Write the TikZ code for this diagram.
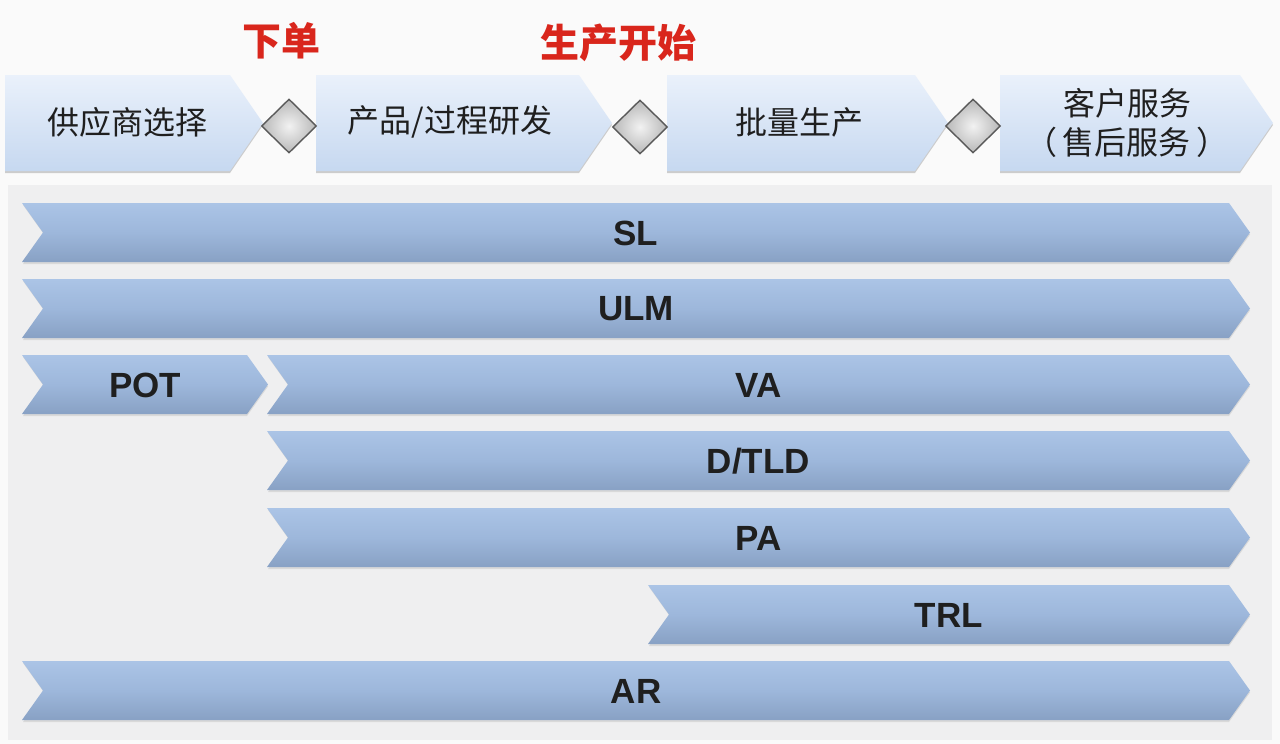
\documentclass[tikz,border=0pt]{standalone}
\usepackage{fontspec}
\setmainfont{Liberation Sans}
\newfontfamily\cjk{Noto Sans CJK SC}
\usetikzlibrary{shapes.geometric}

\definecolor{panelgray}{HTML}{EFEFF0}
\definecolor{phasetop}{HTML}{EAF1FB}
\definecolor{phasebot}{HTML}{C6D8F0}
\definecolor{tasktop}{HTML}{ABC4E6}
\definecolor{taskmid}{HTML}{9DB7DB}
\definecolor{taskbot}{HTML}{88A1C4}
\definecolor{milered}{HTML}{D9261C}

% header phase: left x, tip x
\newcommand{\phasebox}[2]{%
  \fill[phaseshadow] (#1,77) -- (#2-33,77) -- (#2,125) -- (#2-33,173) -- (#1,173) -- cycle;
  \shade[phase] (#1,75) -- (#2-33,75) -- (#2,123) -- (#2-33,171) -- (#1,171) -- cycle;
}
% task bar: top y, left x, tip x, name, label
\newcommand{\taskbar}[5]{%
  \fill[taskshadow] (#2+1,#1+2) -- (#3-21,#1+2) -- (#3,#1+31.5) -- (#3-21,#1+61) -- (#2+1,#1+61) -- (#2+22,#1+31.5) -- cycle;
  \shade[task] (#2,#1) -- (#3-21,#1) -- (#3,#1+29.5) -- (#3-21,#1+59) -- (#2,#1+59) -- (#2+21,#1+29.5) -- cycle;
  \node[tasklabel] (#4) at ({(#2+#3)/2},#1+30) {#5};
}

\begin{document}
\begin{tikzpicture}
  [x=0.5pt, y=-0.5pt,
   phase/.style={top color=phasetop, bottom color=phasebot},
   phaseshadow/.style={fill=black!20},
   task/.style={top color=tasktop, bottom color=taskbot, middle color=taskmid},
   taskshadow/.style={fill=black!15},
   tasklabel/.style={font=\fontsize{17.5}{20}\selectfont\bfseries, text=black!88},
   phaselabel/.style={font=\cjk\fontsize{16}{19.5}\selectfont, text=black!88, align=center},
   gate/.style={diamond, draw=black!65, line width=0.7pt, inner color=black!5, outer color=black!28,
     minimum width=27.5pt, minimum height=27pt, inner sep=0pt},
   milestone/.style={font=\cjk\fontsize{19.5}{22}\selectfont\bfseries, text=milered}]
  \useasboundingbox (0,0) rectangle (1280,744);
  \fill[black!2] (0,0) rectangle (1280,744);
  \fill[panelgray] (8,185) rectangle (1272,740);

  % phases
  \phasebox{5}{263}
  \phasebox{316}{612}
  \phasebox{667}{948}
  \phasebox{1000}{1273}
  \node[phaselabel] (select) at (127,122) {供应商选择};
  \node[phaselabel] (develop) at (450,122) {产品/过程研发};
  \node[phaselabel] (mass) at (799,122) {批量生产};
  \node[phaselabel] (service) at (1127,123) {客户服务\\（\,售后服务\,）};

  % gates and milestones
  \node[gate] (g1) at (289,126) {};
  \node[gate] (g2) at (640,127) {};
  \node[gate] (g3) at (973,126) {};
  \node[milestone] (order) at (281,41) {下单};
  \node[milestone] (sop) at (618,43) {生产开始};

  % tasks
  \taskbar{203}{22}{1250}{sl}{SL}
  \taskbar{279}{22}{1250}{ulm}{ULM}
  \taskbar{355}{22}{268}{pot}{POT}
  \taskbar{355}{267}{1250}{va}{VA}
  \taskbar{431}{267}{1250}{dtld}{D/TLD}
  \taskbar{508}{267}{1250}{pa}{PA}
  \taskbar{585}{648}{1250}{trl}{TRL}
  \taskbar{661}{22}{1250}{ar}{AR}
\end{tikzpicture}
\end{document}
